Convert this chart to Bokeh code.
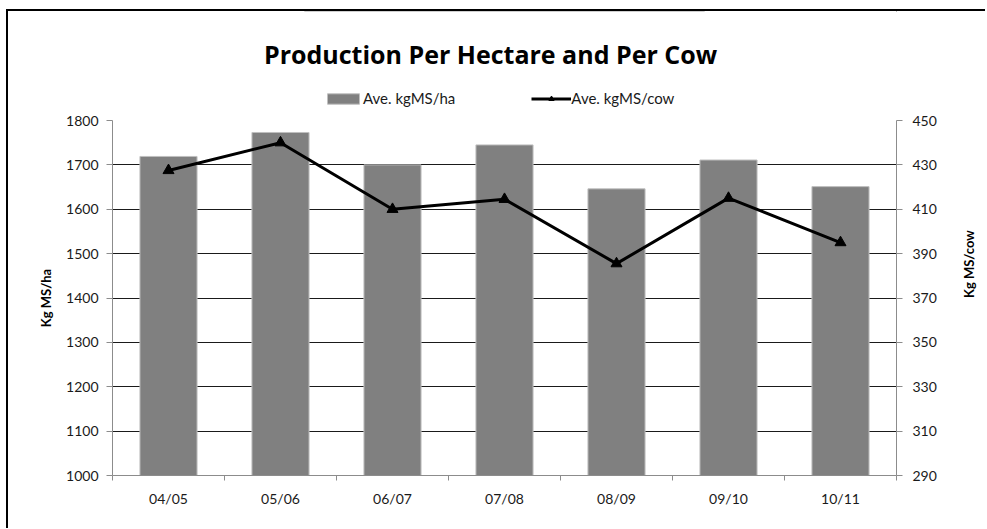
import math
from bokeh.plotting import figure
from bokeh.layouts import column
from bokeh.models import (Range1d, LinearAxis, FixedTicker, Legend, LegendItem, Label)
from bokeh.embed import file_html
from bokeh.resources import INLINE

# ---- data ----
categories = ["04/05", "05/06", "06/07", "07/08", "08/09", "09/10", "10/11"]
kgms_per_ha = [1719, 1773, 1700, 1745, 1646, 1711, 1651]
kgms_per_cow = [427.5, 440, 410, 414.5, 385.5, 415, 395]
left_ticks = [1000, 1100, 1200, 1300, 1400, 1500, 1600, 1700, 1800]
right_ticks = [290, 310, 330, 350, 370, 390, 410, 430, 450]
title_text = "Production Per Hectare and Per Cow"
series_names = ["Ave. kgMS/ha", "Ave. kgMS/cow"]

FONT = "Lato"
BAR_STYLE = dict(fill_color="#808080", line_color="#c0c0c0", line_width=1)
LINE_STYLE = dict(line_color="black", line_width=3)
MARK_STYLE = dict(marker="triangle", size=11, fill_color="black", line_color="black")

xc = [i + 0.5 for i in range(len(categories))]
bounds = list(range(len(categories) + 1))

# ---------- header figure (title + legend) ----------
# its frame is aligned with the main chart's frame by the column layout
top = figure(width=979, height=99, output_backend="svg", toolbar_location=None,
             x_axis_type=None, y_axis_type=None, x_range=Range1d(0, 1), y_range=Range1d(0, 1),
             min_border=0, min_border_left=0, min_border_right=0, min_border_top=0,
             min_border_bottom=0)
top.outline_line_color = None
top.grid.visible = False
top.add_layout(Label(x=378, y=57, x_units="screen", y_units="screen", text=title_text,
                     text_font="Open Sans", text_font_size="25px", text_font_style="bold",
                     text_color="black", text_align="center", text_baseline="alphabetic"))
# legend proxies: same series and styles, lying outside this header's visible ranges
lb = top.vbar(x=xc, top=kgms_per_ha, bottom=left_ticks[0], width=0.51, **BAR_STYLE)
ll = top.line(x=xc, y=kgms_per_cow, **LINE_STYLE)
lm = top.scatter(x=xc, y=kgms_per_cow, **MARK_STYLE)
legend = Legend(items=[LegendItem(label=series_names[0], renderers=[lb]),
                       LegendItem(label=series_names[1], renderers=[ll, lm])],
                orientation="horizontal", location=(211, 3),
                glyph_width=40, glyph_height=13, label_standoff=0, spacing=76,
                padding=0, margin=0, border_line_color=None, background_fill_alpha=0,
                label_text_font=FONT, label_text_font_size="15px", label_text_color="#1a1a1a",
                label_height=14)
top.add_layout(legend, "center")

# ---------- main chart ----------
p = figure(width=979, height=420, output_backend="svg", toolbar_location=None,
           x_range=Range1d(0, len(categories)), y_range=Range1d(left_ticks[0], left_ticks[-1]),
           min_border_left=104, min_border_right=90, min_border_top=10, min_border_bottom=55)
p.outline_line_color = None
p.background_fill_color = "white"
p.extra_y_ranges = {"cow": Range1d(right_ticks[0], right_ticks[-1])}

p.xgrid.visible = False
p.ygrid.ticker = FixedTicker(ticks=left_ticks)
p.ygrid.grid_line_color = "#1a1a1a"
p.ygrid.grid_line_width = 1

bars = p.vbar(x=xc, top=kgms_per_ha, bottom=left_ticks[0], width=0.51, **BAR_STYLE)
ln = p.line(x=xc, y=kgms_per_cow, y_range_name="cow", **LINE_STYLE)
mk = p.scatter(x=xc, y=kgms_per_cow, y_range_name="cow", **MARK_STYLE)

def style_axis(ax):
    ax.axis_line_color = "#8c8c8c"
    ax.axis_line_width = 1
    ax.major_tick_line_color = "#8c8c8c"
    ax.minor_tick_line_color = "#8c8c8c"
    ax.major_label_text_font = FONT
    ax.major_label_text_font_size = "14px"
    ax.major_label_text_color = "#1a1a1a"
    ax.axis_label_text_font = FONT
    ax.axis_label_text_font_size = "13px"
    ax.axis_label_text_font_style = "bold"
    ax.axis_label_text_color = "black"

xa = p.xaxis[0]
style_axis(xa)
xa.ticker = FixedTicker(ticks=xc, minor_ticks=bounds)
xa.major_label_overrides = {x: c for x, c in zip(xc, categories)}
xa.major_tick_out = 0
xa.major_tick_in = 0
xa.minor_tick_out = 5
xa.minor_tick_in = 0
xa.major_label_standoff = 9

ya = p.yaxis[0]
style_axis(ya)
ya.ticker = FixedTicker(ticks=left_ticks)
ya.major_tick_out = 6
ya.major_tick_in = 0
ya.minor_tick_out = 0
ya.minor_tick_in = 0
ya.major_label_standoff = 8
ya.axis_label = "Kg MS/ha"
ya.axis_label_standoff = 9

ra = LinearAxis(y_range_name="cow", ticker=FixedTicker(ticks=right_ticks),
                axis_label="Kg MS/cow")
style_axis(ra)
ra.major_tick_out = 6
ra.major_tick_in = 0
ra.minor_tick_out = 0
ra.minor_tick_in = 0
ra.major_label_standoff = 10
ra.axis_label_standoff = 29
try:
    ra.axis_label_orientation = math.pi / 2
except Exception:
    pass
p.add_layout(ra, "right")

layout = column(top, p, spacing=0)
layout.styles = {"margin-left": "8px", "margin-top": "11px",
                 "box-shadow": "-2px -2px 0px 0px black"}

open("out.html", "w").write(file_html(layout, INLINE))
